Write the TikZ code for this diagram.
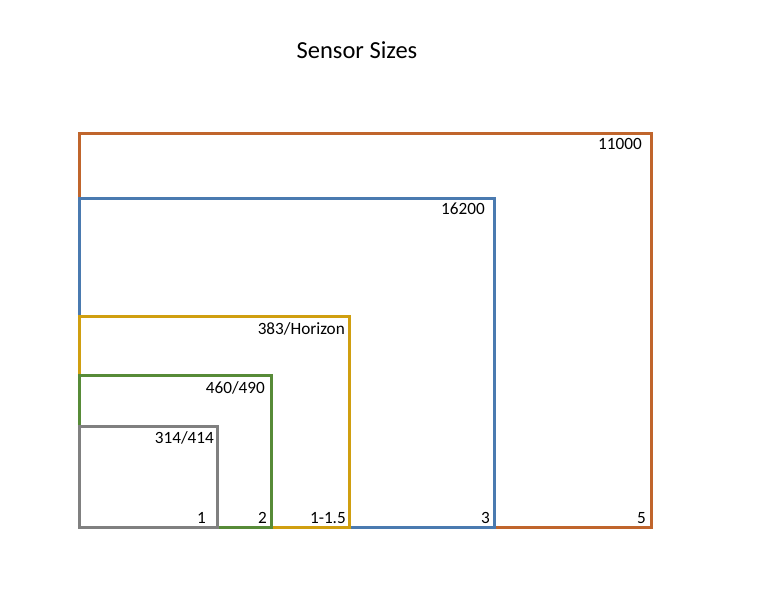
\documentclass[tikz,border=0pt]{standalone}
\usepackage{fontspec}
\setmainfont{Carlito}
\definecolor{corange}{HTML}{C0652C}
\definecolor{cblue}{HTML}{4A7AB0}
\definecolor{cgold}{HTML}{D09F10}
\definecolor{cgreen}{HTML}{578B38}
\definecolor{cgray}{HTML}{808080}
\begin{document}
\begin{tikzpicture}[x=1pt,y=-1pt,
  sbox/.style={line width=3pt},
  lbl/.style={font=\fontsize{17.2}{20}\selectfont, inner sep=0pt},
  ttl/.style={font=\fontsize{24.5}{29}\selectfont, inner sep=0pt}]
\useasboundingbox (0,0) rectangle (768,614);
\node[ttl] (title) at (357,50) {Sensor Sizes};
% boxes
\draw[sbox,corange] (79,133) rectangle (651,527);
\draw[sbox,cblue] (79,198) rectangle (494,527);
\draw[sbox,cgold] (79,316) rectangle (349,527);
\draw[sbox,cgreen] (79,375) rectangle (271,527);
\draw[sbox,cgray] (79,426) rectangle (217,527);
\coordinate (o) at (79,527);
% top labels
\node[lbl,anchor=north east] (l11000) at (642,138) {11000};
\node[lbl,anchor=north east] (l16200) at (485,203) {16200};
\node[lbl,anchor=north east] (l383) at (345,322) {383/Horizon};
\node[lbl,anchor=north east] (l460) at (265,381) {460/490};
\node[lbl,anchor=north east] (l314) at (214,431) {314/414};
% bottom labels
\node[lbl,anchor=base east] (b1) at (206,523) {1};
\node[lbl,anchor=base east] (b2) at (267,523) {2};
\node[lbl,anchor=base east] (b15) at (346,523) {1-1.5};
\node[lbl,anchor=base east] (b3) at (490,523) {3};
\node[lbl,anchor=base east] (b5) at (646,523) {5};
\end{tikzpicture}
\end{document}
